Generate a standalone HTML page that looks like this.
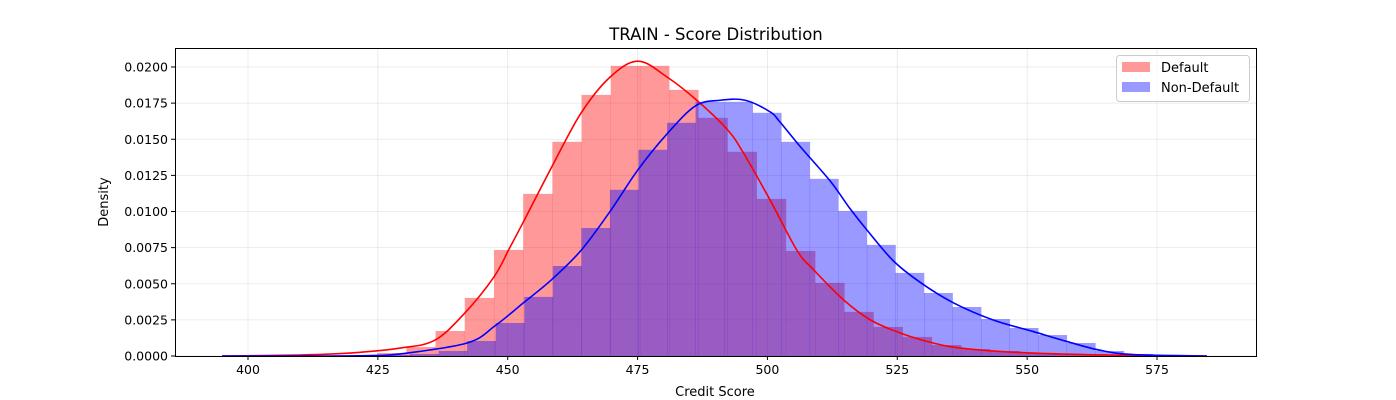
<!DOCTYPE html>
<html><head><meta charset="utf-8"><style>
body{margin:0;background:#fff;}
svg{display:block;font-family:"DejaVu Sans","Liberation Sans",sans-serif;}
</style></head><body>
<svg id="chart" width="1396" height="400">
<rect x="0" y="0" width="1396" height="400" fill="#fff"/>
<text x="716" y="40" text-anchor="middle" font-size="16.5" fill="#000">TRAIN - Score Distribution</text>
<g id="grid"></g>
<g id="bars"></g>
<g id="lines"></g>
<g id="axes"></g>
<text x="715" y="396" text-anchor="middle" font-size="13">Credit Score</text>
<text transform="translate(108,202) rotate(-90)" text-anchor="middle" font-size="13">Density</text>
<g>
<rect x="1116.5" y="55.5" width="133" height="46" rx="3" fill="#fff" fill-opacity="0.8" stroke="#ccc"/>
<rect x="1122" y="62" width="28" height="10" fill="#ff9999"/>
<text x="1161" y="72" font-size="13">Default</text>
<rect x="1122" y="82" width="28" height="10" fill="#9999ff"/>
<text x="1161" y="92" font-size="13">Non-Default</text>
</g>
</svg>
<script>
const xTicks=[400,425,450,475,500,525,550,575];
const yTicks=[0,0.0025,0.005,0.0075,0.01,0.0125,0.015,0.0175,0.02];
const yTickLabels=["0.0000","0.0025","0.0050","0.0075","0.0100","0.0125","0.0150","0.0175","0.0200"];
const redBinStart=419.25, redBinWidth=5.62;
const redDensity=[.00007,.00021,.00062,.00173,.00402,.00734,.01122,.01482,.01807,.02008,.02008,.01842,.01648,.01413,.01087,.00727,.00506,.00305,.00201,.00132,.00076,.00048,.00035,.00021,.00014,.00007];
const blueBinStart=425.7, blueBinWidth=5.497;
const blueDensity=[.00007,.00014,.00035,.00104,.00229,.00409,.00623,.00886,.0115,.01427,.01614,.01759,.01759,.01683,.01482,.01226,.01004,.00769,.00575,.00436,.00339,.00256,.00194,.00145,.0009,.00035,.00014,.00007];
const redKdeX=[395,410,419.6,429.3,436,441.8,447.4,450.4,452.9,458.5,464.1,469.7,475.1,480.7,486.4,492.2,495.3,500.5,505.7,508.8,514.6,519.8,525.5,531.9,538.4,551.1,570.4,584.6];
const redKdeY=[0,.00007,.0002,.00055,.0011,.003,.0055,.0075,.0092,.0131,.0168,.0193,.0204,.0193,.0177,.0157,.0141,.0108,.0073,.006,.0039,.0025,.0016,.0009,.0005,.0002,.00003,0];
const blueKdeX=[395,415.8,423.5,429.3,442.2,447.6,453.1,458.5,464.1,469.5,475.1,480.5,486.1,490.9,495.7,500.5,502.4,506.3,512.1,515.9,519.2,524.2,529.4,535.7,543.4,551.1,557.7,564,570.4,584.6];
const blueKdeY=[0,0,.00003,.00014,.0009,.0021,.0037,.0053,.0073,.0099,.0129,.0153,.0173,.0177,.0177,.0169,.0162,.0145,.0121,.0102,.0087,.0066,.0051,.0037,.0025,.0017,.001,.0004,.0001,0];

const L=175,R=1256,T=48,B=356;
const X=s=>248+(s-400)*(1157-248)/175;
const Y=d=>B-d*(356-67)/0.02;
const NS="http://www.w3.org/2000/svg";
function mk(tag,parent,attrs){const e=document.createElementNS(NS,tag);for(const k in attrs)e.setAttribute(k,attrs[k]);parent.appendChild(e);return e;}
const grid=document.getElementById('grid'),bars=document.getElementById('bars'),lines=document.getElementById('lines'),axes=document.getElementById('axes');
xTicks.forEach(t=>{const g=mk('line',grid,{x1:X(t),x2:X(t),y1:T,y2:B,stroke:'#b0b0b0','stroke-opacity':0.3,'stroke-width':0.8});

});
yTicks.forEach(t=>{const g=mk('line',grid,{x1:L,x2:R,y1:Y(t),y2:Y(t),stroke:'#b0b0b0','stroke-opacity':0.3,'stroke-width':0.8});

});
function drawBars(start,w,vals,color,name){vals.forEach((v,i)=>{const x0=X(start+i*w),x1=X(start+(i+1)*w);
const r=mk('rect',bars,{x:x0,y:Y(v),width:x1-x0+0.3,height:B-Y(v),fill:color,'fill-opacity':0.4});

});}
drawBars(redBinStart,redBinWidth,redDensity,'#ff0000','bar-default');
drawBars(blueBinStart,blueBinWidth,blueDensity,'#0000ff','bar-non-default');
function pathFor(xs,ys){const p=xs.map((x,i)=>[X(x),Y(ys[i])]);let d='M'+p[0][0]+','+p[0][1];
for(let i=0;i<p.length-1;i++){const p0=p[Math.max(0,i-1)],p1=p[i],p2=p[i+1],p3=p[Math.min(p.length-1,i+2)];
const c1=[p1[0]+(p2[0]-p0[0])/6,p1[1]+(p2[1]-p0[1])/6],c2=[p2[0]-(p3[0]-p1[0])/6,p2[1]-(p3[1]-p1[1])/6];
d+=` C${c1[0]},${Math.min(B,c1[1])} ${c2[0]},${Math.min(B,c2[1])} ${p2[0]},${p2[1]}`;}return d;}
const rl=mk('path',lines,{d:pathFor(redKdeX,redKdeY),fill:'none',stroke:'#ff0000','stroke-width':1.6});


const bl=mk('path',lines,{d:pathFor(blueKdeX,blueKdeY),fill:'none',stroke:'#0000ff','stroke-width':1.6});


const fr=mk('rect',axes,{x:L+0.5,y:T+0.5,width:R-L,height:B-T,fill:'none',stroke:'#000','stroke-width':1});


xTicks.forEach(t=>{const l=mk('line',axes,{x1:X(t),x2:X(t),y1:B,y2:B+4,stroke:'#000'});


const tx=mk('text',axes,{x:X(t),y:B+18,'text-anchor':'middle','font-size':12.5});tx.textContent=t;

});
yTicks.forEach((t,i)=>{const l=mk('line',axes,{x1:L-4,x2:L,y1:Y(t),y2:Y(t),stroke:'#000'});


const tx=mk('text',axes,{x:L-7,y:Y(t)+4.5,'text-anchor':'end','font-size':12.5});tx.textContent=yTickLabels[i];

});
</script>
</body></html>
